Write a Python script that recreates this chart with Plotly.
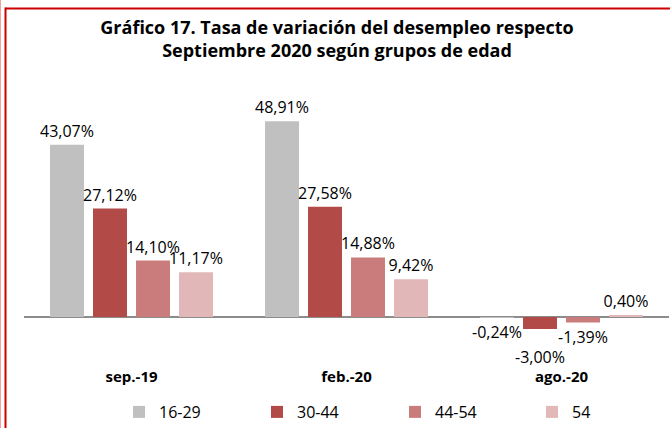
import plotly.graph_objects as go

categories = ["sep.-19", "feb.-20", "ago.-20"]
series_names = ["16-29", "30-44", "44-54", "54"]
v_16_29 = [43.07, 48.91, -0.24]
v_30_44 = [27.12, 27.58, -3.00]
v_44_54 = [14.10, 14.88, -1.39]
v_54 = [11.17, 9.42, 0.40]
colors = ["#C0C0C0", "#B24B48", "#C97C7B", "#E2B7B7"]

title_text = "<b>Gráfico 17. Tasa de variación del desempleo respecto<br>Septiembre 2020 según grupos de edad</b>"

FONT = "Open Sans"
BARGAP = 0.2


def fmt(v):
    return ("%.2f" % v).replace(".", ",") + "%"


L, R, T, B = 24, 1, 80, 66
H, W = 428, 670
ph = H - T - B
pw = W - L - R


def px_x(p):
    return (p - L) / pw


def px_y(p):
    return (H - B - p) / ph


fig = go.Figure()
all_vals = [v_16_29, v_30_44, v_44_54, v_54]
legend_ids = ["legend", "legend2", "legend3", "legend4"]
n = len(all_vals)
slot = (1 - BARGAP) / n
extra_annotations = []
for si, (name, vals, col, lid) in enumerate(zip(series_names, all_vals, colors, legend_ids)):
    labels = []
    for ci, v in enumerate(vals):
        # the -3,00% label sits lower in the original, below the -0,24% label
        if v < -2:
            labels.append("")
            extra_annotations.append(dict(
                x=ci - (1 - BARGAP) / 2 + slot * (si + 0.5), y=v, xref="x", yref="y",
                text=fmt(v), showarrow=False, yanchor="top", yshift=-15,
                font=dict(family=FONT, size=16, color="#000000")))
        else:
            labels.append(fmt(v))
    fig.add_trace(go.Bar(
        x=list(range(len(categories))), y=vals, name=name, legend=lid,
        marker=dict(color=col, line=dict(width=0)),
        text=labels, textposition="outside", constraintext="none",
        textfont=dict(family=FONT, size=16, color="#000000"),
        cliponaxis=False,
    ))

legend_common = dict(orientation="h", xanchor="left", yanchor="middle",
                     xref="container", yref="container",
                     y=1 - 412 / H, bgcolor="rgba(0,0,0,0)",
                     font=dict(family=FONT, size=16, color="#000000"))
legend_px = [119, 257, 395, 532]

layout_legends = {}
for lid, lx in zip(legend_ids, legend_px):
    layout_legends[lid] = dict(legend_common, x=lx / W)

fig.update_layout(
    width=W, height=H,
    margin=dict(l=L, r=R, t=T, b=B, autoexpand=False),
    paper_bgcolor="white", plot_bgcolor="white",
    barmode="group", bargap=BARGAP, bargroupgap=0.21,
    title=dict(text=title_text, x=0.503, xanchor="center", xref="container",
               y=1 - 34 / H, yanchor="top", yref="container",
               font=dict(family=FONT, size=18, color="#000000")),
    showlegend=True,
    xaxis=dict(showline=False, ticks="", showgrid=False, ticklabelstandoff=4,
               automargin=False, range=[-0.5, len(categories) - 0.5],
               tickmode="array", tickvals=list(range(len(categories))),
               ticktext=categories,
               tickfont=dict(family=FONT, size=15, color="#000000", weight="bold")),
    yaxis=dict(range=[-(H - B - 317) / 4.0, (317 - T) / 4.0], showgrid=False,
               automargin=False,
               showticklabels=False, zeroline=True, zerolinecolor="#8C8C8C",
               zerolinewidth=2, ticks=""),
    annotations=extra_annotations,
    shapes=[
        dict(type="line", xref="paper", yref="paper", x0=px_x(5.5), x1=px_x(672),
             y0=px_y(8.5), y1=px_y(8.5), line=dict(color="#CC0000", width=2)),
        dict(type="line", xref="paper", yref="paper", x0=px_x(5.5), x1=px_x(5.5),
             y0=px_y(7.5), y1=px_y(430), line=dict(color="#CC0000", width=2)),
        dict(type="line", xref="paper", yref="paper", x0=px_x(0.5), x1=px_x(0.5),
             y0=px_y(0), y1=px_y(430), line=dict(color="#F2A0A0", width=1)),
    ],
    **layout_legends,
)

fig.write_html("out.html", config={"displayModeBar": False},
               post_script="document.body.style.margin='0';document.body.style.overflow='hidden';")
